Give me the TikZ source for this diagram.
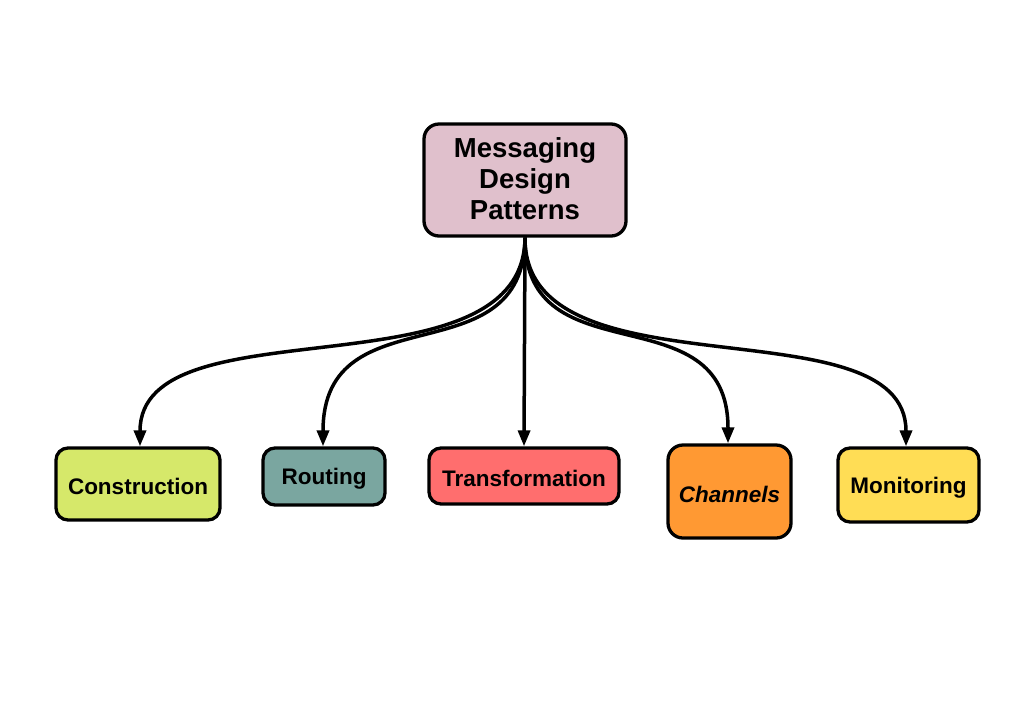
\documentclass[tikz,border=0pt]{standalone}
\usepackage{fontspec}
\setmainfont{Liberation Sans}
\usetikzlibrary{arrows.meta}
\definecolor{cmain}{RGB}{224,192,204}
\definecolor{ccons}{RGB}{214,232,106}
\definecolor{crout}{RGB}{122,166,160}
\definecolor{ctran}{RGB}{255,110,110}
\definecolor{cchan}{RGB}{255,153,51}
\definecolor{cmoni}{RGB}{255,221,85}
\newcommand{\lowertext}[1]{\raisebox{-2.5pt}[\height][\depth]{#1}}
\begin{document}
\begin{tikzpicture}[x=1pt,y=-1pt,
  box/.style={draw=black,line width=3.3pt,rounded corners=12pt,inner sep=0pt,align=center,
    font=\fontsize{22.5}{26}\selectfont\bfseries},
  link/.style={line width=3.5pt,-{Triangle[length=16pt,width=12pt]}}]
\useasboundingbox (0,0) rectangle (1024,724);
\node[box,fill=cmain,minimum width=202pt,minimum height=112pt,rounded corners=15pt,
  font=\fontsize{27.5}{31}\selectfont\bfseries] (main) at (525,180) {\lowertext{\begin{tabular}{@{}c@{}}Messaging\\Design\\Patterns\end{tabular}}};
\node[box,fill=ccons,minimum width=164pt,minimum height=72pt] (cons) at (138,484) {\lowertext{Construction}};
\node[box,fill=crout,minimum width=122pt,minimum height=57pt] (rout) at (324,476.5) {\lowertext{Routing}};
\node[box,fill=ctran,minimum width=190pt,minimum height=56pt] (tran) at (524,476) {\lowertext{Transformation}};
\node[box,fill=cchan,minimum width=123pt,minimum height=93pt,rounded corners=15pt,
  font=\fontsize{22.5}{26}\selectfont\bfseries\itshape] (chan) at (729.5,491.5) {\lowertext{Channels}};
\node[box,fill=cmoni,minimum width=141pt,minimum height=74pt] (moni) at (908.5,485) {\lowertext{Monitoring}};
\coordinate (src) at (main.south);
\draw[link] (src) .. controls (524,400) and (140,300) .. (cons.north -| 140,0);
\draw[link] (src) .. controls (524,380) and (323,290) .. (rout.north -| 323,0);
\draw[link] (src) -- (tran.north);
\draw[link] (src) .. controls (524,380) and (728,290) .. (chan.north -| 728,0);
\draw[link] (src) .. controls (524,400) and (906,300) .. (moni.north -| 906,0);
\end{tikzpicture}
\end{document}
